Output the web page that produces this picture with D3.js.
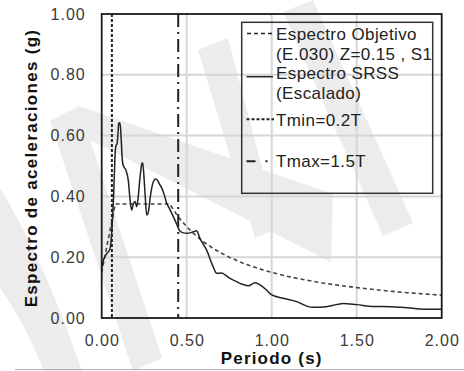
<!DOCTYPE html>
<html>
<head>
<meta charset="utf-8">
<script src="https://cdn.jsdelivr.net/npm/d3@7/dist/d3.min.js"></script>
<style>
  html, body { margin: 0; padding: 0; background: #fff; }
  svg { display: block; }
  text { font-family: "Liberation Sans", Arial, sans-serif; }
</style>
</head>
<body>
<svg id="chart" width="464" height="371"></svg>
<script>
// ---- data ----
const xTicks = [0, 0.5, 1.0, 1.5, 2.0];
const yTicks = [0, 0.2, 0.4, 0.6, 0.8, 1.0];

// Espectro Objetivo (E.030) Z=0.15, S1
const targetT = [0, 0.02, 0.04, 0.06, 0.08, 0.2, 0.3, 0.4, 0.45, 0.5, 0.55, 0.6, 0.65, 0.7, 0.75, 0.8, 0.85, 0.9, 0.95, 1.0, 1.1, 1.2, 1.3, 1.4, 1.5, 1.6, 1.7, 1.8, 1.9, 2.0];
const targetSa = [0.150, 0.206, 0.263, 0.319, 0.375, 0.375, 0.375, 0.375, 0.333, 0.300, 0.273, 0.250, 0.231, 0.214, 0.200, 0.188, 0.176, 0.167, 0.158, 0.150, 0.136, 0.125, 0.115, 0.107, 0.100, 0.094, 0.088, 0.083, 0.079, 0.075];

// Espectro SRSS (Escalado)
const srssT = [0.000, 0.010, 0.020, 0.030, 0.040, 0.050, 0.060, 0.065, 0.070, 0.075, 0.080, 0.085, 0.090, 0.095, 0.100, 0.105, 0.110, 0.115, 0.120, 0.125, 0.130, 0.143, 0.157, 0.165, 0.176, 0.186, 0.196, 0.206, 0.215, 0.225, 0.235, 0.241, 0.248, 0.256, 0.265, 0.275, 0.285, 0.295, 0.305, 0.314, 0.325, 0.340, 0.353, 0.368, 0.382, 0.400, 0.420, 0.440, 0.460, 0.480, 0.500, 0.520, 0.540, 0.558, 0.578, 0.600, 0.620, 0.640, 0.655, 0.676, 0.706, 0.730, 0.755, 0.785, 0.814, 0.862, 0.902, 0.931, 0.969, 1.000, 1.068, 1.147, 1.206, 1.245, 1.320, 1.380, 1.420, 1.500, 1.600, 1.700, 1.800, 1.870, 1.940, 2.000];
const srssSa = [0.165, 0.190, 0.203, 0.212, 0.218, 0.230, 0.290, 0.340, 0.400, 0.480, 0.550, 0.568, 0.572, 0.600, 0.640, 0.642, 0.630, 0.585, 0.530, 0.505, 0.498, 0.485, 0.450, 0.400, 0.355, 0.375, 0.383, 0.366, 0.400, 0.460, 0.505, 0.511, 0.470, 0.400, 0.339, 0.350, 0.395, 0.430, 0.450, 0.457, 0.455, 0.440, 0.428, 0.405, 0.378, 0.358, 0.335, 0.310, 0.286, 0.280, 0.279, 0.280, 0.284, 0.287, 0.262, 0.240, 0.220, 0.190, 0.169, 0.147, 0.148, 0.140, 0.130, 0.122, 0.114, 0.106, 0.116, 0.109, 0.092, 0.076, 0.065, 0.054, 0.039, 0.035, 0.037, 0.044, 0.048, 0.044, 0.038, 0.037, 0.034, 0.030, 0.029, 0.029];

// Tmin / Tmax
const limitT = [0.06, 0.45];
const limitNames = ["Tmin=0.2T", "Tmax=1.5T"];

const legendLines = ["Espectro Objetivo", "(E.030) Z=0.15 , S1", "Espectro SRSS", "(Escalado)", "Tmin=0.2T", "Tmax=1.5T"];

// ---- layout ----
const svg = d3.select("#chart");
const L = 101.7, R = 441.7, T = 14, B = 318;
const x = d3.scaleLinear().domain([0, 2]).range([L, R]);
const y = d3.scaleLinear().domain([0, 1]).range([B, T]);

// watermark (decorative, behind everything)
const wm = svg.append("g").attr("fill", "#ececec");
wm.append("path").attr("d", "M0,188 Q45,262 82,371 L44,371 Q24,322 0,288 Z");
wm.append("polygon").attr("points", "50,121 79,106 162,358 133,371");
wm.append("polygon").attr("points", "79,106 333,194 331,262 88,139");
wm.append("polygon").attr("points", "198,50 228,38 278,228 255,238");
wm.append("polygon").attr("points", "283,12 313,0 413,223 383,236");

// bottom separator
svg.append("line").attr("x1", 15).attr("x2", 464).attr("y1", 369.5).attr("y2", 369.5)
  .attr("stroke", "#b0b0b0").attr("stroke-width", 1.2);

// gridlines
const grid = svg.append("g").attr("stroke", "#d6d6d6").attr("stroke-width", 2);
grid.selectAll("line.v").data(xTicks.filter(d => d > 0 && d < 2)).join("line")
  .attr("x1", d => x(d)).attr("x2", d => x(d)).attr("y1", T).attr("y2", B);
grid.selectAll("line.h").data(yTicks.filter(d => d > 0 && d < 1)).join("line")
  .attr("y1", d => y(d)).attr("y2", d => y(d)).attr("x1", L).attr("x2", R);

// axes
const yAxis = d3.axisLeft(y).tickValues(yTicks).tickFormat(d3.format(".2f")).tickSize(0).tickPadding(16);
const xAxis = d3.axisBottom(x).tickValues(xTicks).tickFormat(d3.format(".2f")).tickSize(0).tickPadding(16.5);
const gy = svg.append("g").attr("transform", `translate(${L},0)`).call(yAxis);
const gx = svg.append("g").attr("transform", `translate(0,${B})`).call(xAxis);
[gx, gy].forEach(g => {
  g.select(".domain").remove();
  g.selectAll("text").attr("font-size", 16).attr("fill", "#3a3a3a")
    .attr("font-family", '"Liberation Sans", Arial, sans-serif')
    .style("letter-spacing", "1px");
});

// target spectrum (dashed)
const line = d3.line().x(d => x(d[0])).y(d => y(d[1]));
svg.append("path").datum(targetT.map((t, i) => [t, targetSa[i]]))
  .attr("d", line).attr("fill", "none").attr("stroke", "#444")
  .attr("stroke-width", 1.6).attr("stroke-dasharray", "4,3");

// SRSS spectrum (solid)
svg.append("path").datum(srssT.map((t, i) => [t, srssSa[i]]))
  .attr("d", line.curve(d3.curveMonotoneX)).attr("fill", "none").attr("stroke", "#222")
  .attr("stroke-width", 1.5).attr("stroke-linejoin", "round");

// Tmin / Tmax vertical lines
const dashes = ["3,2", "13,5,2,5"];
svg.selectAll("line.lim").data(limitT).join("line")
  .attr("x1", d => x(d)).attr("x2", d => x(d)).attr("y1", T).attr("y2", B)
  .attr("stroke", "#222").attr("stroke-width", 2)
  .attr("stroke-dasharray", (d, i) => dashes[i]);

// plot frame
svg.append("rect").attr("x", L).attr("y", T).attr("width", R - L).attr("height", B - T)
  .attr("fill", "none").attr("stroke", "#1a1a1a").attr("stroke-width", 1.8);

// axis titles
svg.append("text").attr("x", (L + R) / 2).attr("y", 364).attr("text-anchor", "middle")
  .attr("font-size", 17).attr("font-weight", "bold").attr("fill", "#111")
  .style("letter-spacing", "1.2px").text("Periodo (s)");
svg.append("text").attr("transform", `translate(36.7,${(T + B) / 2 + 2}) rotate(-90)`)
  .attr("text-anchor", "middle").attr("font-size", 17).attr("font-weight", "bold").attr("fill", "#111")
  .style("letter-spacing", "1.3px").text("Espectro de aceleraciones (g)");

// legend
const lg = svg.append("g");
lg.append("rect").attr("x", 241.7).attr("y", 22.3).attr("width", 191).attr("height", 171)
  .attr("fill", "none").attr("stroke", "#333").attr("stroke-width", 1.5);
const baselines = [40, 59.5, 79.3, 99.3, 125.5, 166.7];
lg.selectAll("text").data(legendLines).join("text")
  .attr("x", 276).attr("y", (d, i) => baselines[i])
  .attr("font-size", 17).attr("fill", "#222").style("letter-spacing", "0.4px")
  .text(d => d);
const sym = [
  { y: 33.5, dash: "4,3", w: 1.6, x1: 247, x2: 272 },
  { y: 76.7, dash: null, w: 1.5, x1: 246.5, x2: 273 },
  { y: 119.3, dash: "3,2", w: 2, x1: 246.5, x2: 274 },
  { y: 161.3, dash: "9,10,2,20", w: 2, x1: 246.5, x2: 272 }
];
lg.selectAll("line").data(sym).join("line")
  .attr("x1", d => d.x1).attr("x2", d => d.x2).attr("y1", d => d.y).attr("y2", d => d.y)
  .attr("stroke", "#222").attr("stroke-width", d => d.w)
  .attr("stroke-dasharray", d => d.dash);
</script>
</body>
</html>
